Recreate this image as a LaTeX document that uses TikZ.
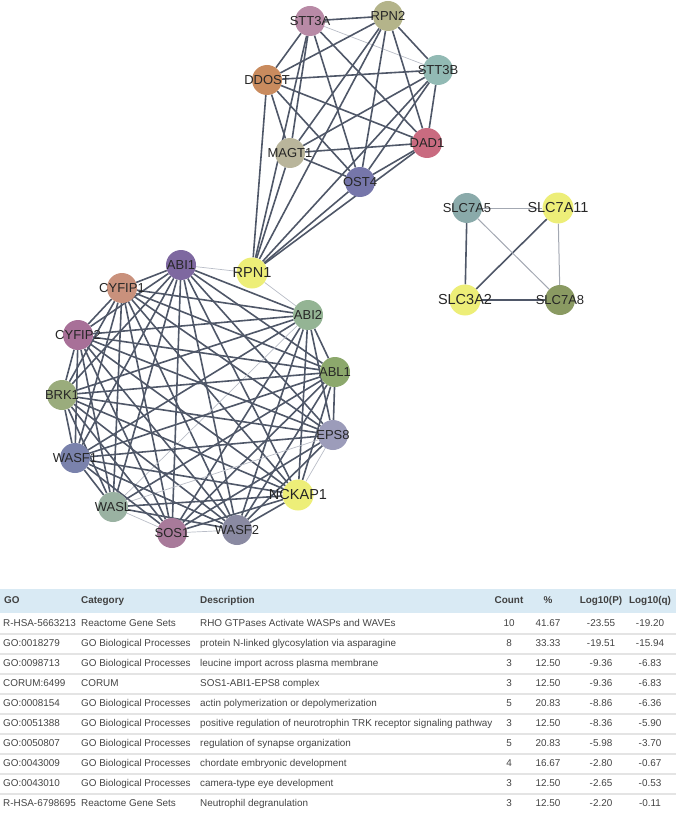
\documentclass[tikz,border=0pt]{standalone}
\usepackage{fontspec}
\setmainfont{Liberation Sans}
\usetikzlibrary{backgrounds}
\definecolor{edgeDark}{HTML}{4F5768}
\definecolor{edgeLight}{HTML}{B9BDC7}
\definecolor{edgeMid}{HTML}{A3A8B2}
\definecolor{qYellow}{HTML}{EDEE78}
\definecolor{headBlue}{HTML}{D9EAF4}
\definecolor{rowLine}{HTML}{E4E4E4}
\definecolor{tabText}{HTML}{444444}
% gene names overflow the fixed circle
\newcommand{\glab}[1]{\makebox[0pt]{#1}}

\begin{document}
\begin{tikzpicture}[x=1pt, y=-1pt,
                gene/.style = {circle, minimum size=30pt, inner sep=0pt,
                               font=\fontsize{13}{15}\selectfont, text=black!85},
                query/.style = {gene, minimum size=31pt, fill=qYellow, font=\fontsize{14.5}{16}\selectfont},
                link/.style = {draw=edgeDark, line width=1.6pt},
                weak/.style = {draw=edgeLight, line width=0.7pt},
                mid/.style = {draw=edgeMid, line width=1pt},
                STT3A-STT3B/.style = weak,
                ABI2-WASL/.style = weak, EPS8-WASL/.style = weak,
                EPS8-NCKAP1/.style = weak, WASL-SOS1/.style = weak,
                SOS1-WASF2/.style = weak,
                cell/.style = {font=\fontsize{9.9}{12}\selectfont, text=tabText,
                               inner sep=0pt, text height=7.2pt, text depth=2pt},
                head/.style = {cell, font=\fontsize{9.9}{12}\selectfont\bfseries, text=black!75}]
\useasboundingbox (0,0) rectangle (676,813);

% glycosylation cluster
\node[gene, fill={rgb,255:red,184;green,138;blue,166}] (STT3A) at (310,21) {\glab{STT3A}};
\node[gene, fill={rgb,255:red,180;green,180;blue,138}] (RPN2) at (388,16) {\glab{RPN2}};
\node[gene, fill={rgb,255:red,146;green,186;blue,180}] (STT3B) at (438,70) {\glab{STT3B}};
\node[gene, fill={rgb,255:red,201;green,139;blue,94}] (DDOST) at (267,80) {\glab{DDOST}};
\node[gene, fill={rgb,255:red,201;green,107;blue,128}] (DAD1) at (427,143) {\glab{DAD1}};
\node[gene, fill={rgb,255:red,185;green,181;blue,155}] (MAGT1) at (290,153) {\glab{MAGT1}};
\node[gene, fill={rgb,255:red,118;green,118;blue,170}] (OST4) at (360,182) {\glab{OST4}};
\node[query] (RPN1) at (252,273) {\glab{RPN1}};

% WAVE complex cluster
\node[gene, fill={rgb,255:red,126;green,104;blue,160}] (ABI1) at (181,265) {\glab{ABI1}};
\node[gene, fill={rgb,255:red,201;green,145;blue,124}] (CYFIP1) at (122,288) {\glab{CYFIP1}};
\node[gene, fill={rgb,255:red,148;green,180;blue,148}] (ABI2) at (308,315) {\glab{ABI2}};
\node[gene, fill={rgb,255:red,168;green,112;blue,152}] (CYFIP2) at (78,335) {\glab{CYFIP2}};
\node[gene, fill={rgb,255:red,140;green,168;blue,108}] (ABL1) at (335,372) {\glab{ABL1}};
\node[gene, fill={rgb,255:red,154;green,172;blue,124}] (BRK1) at (62,395) {\glab{BRK1}};
\node[gene, fill={rgb,255:red,156;green,156;blue,186}] (EPS8) at (333,435) {\glab{EPS8}};
\node[gene, fill={rgb,255:red,122;green,130;blue,172}] (WASF1) at (75,458) {\glab{WASF1}};
\node[query] (NCKAP1) at (298,495) {\glab{NCKAP1}};
\node[gene, fill={rgb,255:red,154;green,178;blue,162}] (WASL) at (113,507) {\glab{WASL}};
\node[gene, fill={rgb,255:red,168;green,122;blue,154}] (SOS1) at (172,533) {\glab{SOS1}};
\node[gene, fill={rgb,255:red,138;green,138;blue,162}] (WASF2) at (237,530) {\glab{WASF2}};

% amino acid transporters
\node[gene, fill={rgb,255:red,138;green,170;blue,170}] (SLC7A5) at (467,208) {\glab{SLC7A5}};
\node[query] (SLC7A11) at (558,208) {\glab{SLC7A11}};
\node[query] (SLC3A2) at (465,300) {\glab{SLC3A2}};
\node[gene, fill={rgb,255:red,138;green,154;blue,98}] (SLC7A8) at (560,300) {\glab{SLC7A8}};

\begin{scope}[on background layer]
\foreach \a [count=\i] in {STT3A,RPN2,STT3B,DDOST,DAD1,MAGT1,OST4,RPN1}
  \foreach \b [count=\j] in {STT3A,RPN2,STT3B,DDOST,DAD1,MAGT1,OST4,RPN1}
    {\ifnum\j>\i \draw[link, \a-\b/.try] (\a) -- (\b); \fi}
\foreach \a [count=\i] in {ABI1,CYFIP1,ABI2,CYFIP2,ABL1,BRK1,EPS8,WASF1,NCKAP1,WASL,SOS1,WASF2}
  \foreach \b [count=\j] in {ABI1,CYFIP1,ABI2,CYFIP2,ABL1,BRK1,EPS8,WASF1,NCKAP1,WASL,SOS1,WASF2}
    {\ifnum\j>\i \draw[link, \a-\b/.try] (\a) -- (\b); \fi}
\draw[weak] (RPN1) -- (ABI1);
\draw[weak] (RPN1) -- (ABI2);
\draw[link] (SLC7A5) -- (SLC3A2);
\draw[link] (SLC7A11) -- (SLC3A2);
\draw[link] (SLC3A2) -- (SLC7A8);
\draw[mid] (SLC7A5) -- (SLC7A11);
\draw[mid] (SLC7A5) -- (SLC7A8);
\draw[mid] (SLC7A11) -- (SLC7A8);
\end{scope}

% enrichment table
\fill[headBlue] (0,589) rectangle (676,613);
\foreach \r in {0,...,8}
  \draw[rowLine, line width=1.3pt] (0,634+20*\r) -- (676,634+20*\r);
\node[head, anchor=west] (hGO) at (4,601) {GO};
\node[head, anchor=west] (hCat) at (81,601) {Category};
\node[head, anchor=west] (hDesc) at (200,601) {Description};
\node[head] (hCount) at (509,601) {Count};
\node[head] (hPct) at (548,601) {\%};
\node[head] (hP) at (601,601) {Log10(P)};
\node[head] (hQ) at (650,601) {Log10(q)};
\foreach \go/\cat/\desc/\n/\pct/\lp/\lq [count=\r from 0] in {
    R-HSA-5663213/Reactome Gene Sets/RHO GTPases Activate WASPs and WAVEs/10/41.67/-23.55/-19.20,
    GO:0018279/GO Biological Processes/protein N-linked glycosylation via asparagine/8/33.33/-19.51/-15.94,
    GO:0098713/GO Biological Processes/leucine import across plasma membrane/3/12.50/-9.36/-6.83,
    CORUM:6499/CORUM/SOS1-ABI1-EPS8 complex/3/12.50/-9.36/-6.83,
    GO:0008154/GO Biological Processes/actin polymerization or depolymerization/5/20.83/-8.86/-6.36,
    GO:0051388/GO Biological Processes/positive regulation of neurotrophin TRK receptor signaling pathway/3/12.50/-8.36/-5.90,
    GO:0050807/GO Biological Processes/regulation of synapse organization/5/20.83/-5.98/-3.70,
    GO:0043009/GO Biological Processes/chordate embryonic development/4/16.67/-2.80/-0.67,
    GO:0043010/GO Biological Processes/camera-type eye development/3/12.50/-2.65/-0.53,
    R-HSA-6798695/Reactome Gene Sets/Neutrophil degranulation/3/12.50/-2.20/-0.11} {
  \node[cell, anchor=west] (go\r) at (3,624+20*\r) {\go};
  \node[cell, anchor=west] (cat\r) at (81,624+20*\r) {\cat};
  \node[cell, anchor=west] (desc\r) at (200,624+20*\r) {\desc};
  \node[cell] (n\r) at (509,624+20*\r) {\n};
  \node[cell] (pct\r) at (548,624+20*\r) {\pct};
  \node[cell] (lp\r) at (601,624+20*\r) {\lp};
  \node[cell] (lq\r) at (650,624+20*\r) {\lq};
}
\end{tikzpicture}
\end{document}
